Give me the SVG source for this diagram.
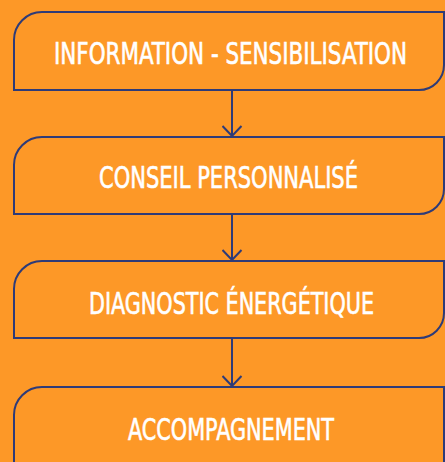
<svg xmlns="http://www.w3.org/2000/svg" width="445" height="462" viewBox="0 0 445 462">
<defs>
<style>
.box{fill:#FD9827;stroke:#2E3B78;stroke-width:2}
.lbl{fill:#FFFFFF;stroke:#FFFFFF;stroke-width:0.6;font-family:"DejaVu Sans Condensed","DejaVu Sans",sans-serif;font-size:29.5px;text-anchor:middle}
.con{stroke:#2E3B78;stroke-width:2;fill:none}
</style>
<marker id="arr" viewBox="0 0 12 21" refX="11" refY="10.5" markerWidth="12" markerHeight="21" markerUnits="userSpaceOnUse" orient="auto">
<path d="M1,1 L11,10.5 L1,20" fill="none" stroke="#2E3B78" stroke-width="2"/>
</marker>
</defs>
<rect width="445" height="462" fill="#FD9827"/>
<g id="node1">
<path class="box" d="M14,90 V40 A28,28 0 0 1 42,12 H444 V65 A25,25 0 0 1 419,90 Z"/>
<text class="lbl" x="230.5" y="64" textLength="353" lengthAdjust="spacingAndGlyphs">INFORMATION - SENSIBILISATION</text>
</g>
<g id="node2">
<path class="box" d="M14,214 V165 A28,28 0 0 1 42,137 H444 V189 A25,25 0 0 1 419,214 Z"/>
<text class="lbl" x="228.5" y="187.5" textLength="259" lengthAdjust="spacingAndGlyphs">CONSEIL PERSONNALISÉ</text>
</g>
<g id="node3">
<path class="box" d="M14,338 V289 A28,28 0 0 1 42,261 H444 V313 A25,25 0 0 1 419,338 Z"/>
<text class="lbl" x="231.5" y="313.5" textLength="285" lengthAdjust="spacingAndGlyphs">DIAGNOSTIC ÉNERGÉTIQUE</text>
</g>
<g id="node4">
<path class="box" d="M14,470 V415 A28,28 0 0 1 42,387 H444 V470 Z"/>
<text class="lbl" x="231" y="439.5" textLength="206" lengthAdjust="spacingAndGlyphs">ACCOMPAGNEMENT</text>
</g>
<g id="connectors">
<line class="con" x1="232" y1="90" x2="232" y2="136" marker-end="url(#arr)"/>
<line class="con" x1="232" y1="214" x2="232" y2="260" marker-end="url(#arr)"/>
<line class="con" x1="232" y1="338" x2="232" y2="386" marker-end="url(#arr)"/>
</g>
</svg>
